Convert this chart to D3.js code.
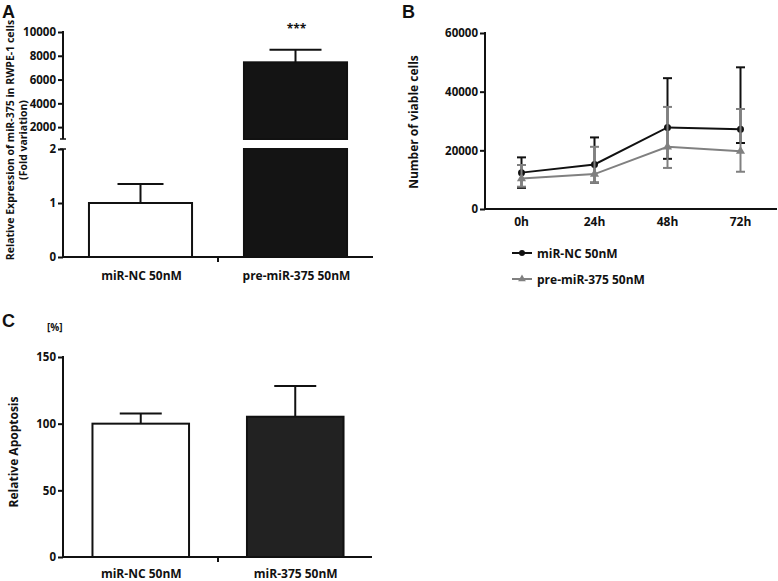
<!DOCTYPE html>
<html><head><meta charset="utf-8">
<script src="https://cdn.jsdelivr.net/npm/d3@7"></script>
<style>
body{margin:0;background:#fff;}
text{font-family:"Open Sans",sans-serif;font-weight:700;fill:#111;}
</style></head>
<body><svg id="c" width="778" height="581"></svg>
<script>
// Panel A data
const catsA = ["miR-NC 50nM", "pre-miR-375 50nM"];
const valuesA = [1, 7450];
const errA = [0.35, 1050];
const ticksAUpper = [2000, 4000, 6000, 8000, 10000];
const ticksALower = [0, 1, 2];
// Panel B data
const timesB = ["0h", "24h", "48h", "72h"];
const ncMean = [12400, 15200, 27800, 27200];
const ncLow = [7200, 9000, 17100, 22500];
const ncHigh = [17600, 24400, 44600, 48300];
const preMean = [10400, 11900, 21200, 19700];
const preLow = [7600, 9000, 14000, 12700];
const preHigh = [15000, 21200, 34800, 34100];
const ticksB = [0, 20000, 40000, 60000];
const seriesB = ["miR-NC 50nM", "pre-miR-375 50nM"];
// Panel C data
const catsC = ["miR-NC 50nM", "miR-375 50nM"];
const valuesC = [100, 105.2];
const errC = [7.7, 23];
const ticksC = [0, 50, 100, 150];

const svg = d3.select("#c");
const fs = 11.5;
const fl = 12;

function styleAxis(g){
  g.selectAll("path.domain").remove();
  g.selectAll("line").attr("stroke","#111").attr("stroke-width",2);
  g.selectAll("text").attr("font-size",fs).style("font-family","'Open Sans',sans-serif").style("font-weight",700).attr("fill","#111");
}

// ---------- Panel A ----------
const xA = d3.scalePoint().domain(catsA).range([63,373]).padding(0.5);
const stepA = xA.step();
const bwA = stepA*0.665;
const yAU = d3.scaleLinear().domain([1000,10000]).range([139,32]);
const yAL = d3.scaleLinear().domain([0,2]).range([257,149]);
const gA = svg.append("g");
catsA.forEach((c,i)=>{
  const v = valuesA[i];
  const fill = i===0 ? "#fff" : "#141414";
  if (v <= 2) {
    gA.append("rect").attr("x",xA(c)-bwA/2).attr("y",yAL(v)).attr("width",bwA).attr("height",yAL(0)-yAL(v))
      .attr("fill",fill).attr("stroke","#111").attr("stroke-width",2);
    const top = yAL(v+errA[i]);
    gA.append("line").attr("x1",xA(c)).attr("x2",xA(c)).attr("y1",yAL(v)).attr("y2",top).attr("stroke","#111").attr("stroke-width",2);
    gA.append("line").attr("x1",xA(c)-23).attr("x2",xA(c)+23).attr("y1",top).attr("y2",top).attr("stroke","#111").attr("stroke-width",2);
  } else {
    gA.append("rect").attr("x",xA(c)-bwA/2).attr("y",yAL(2)).attr("width",bwA).attr("height",yAL(0)-yAL(2))
      .attr("fill",fill).attr("stroke","#111").attr("stroke-width",2);
    gA.append("rect").attr("x",xA(c)-bwA/2).attr("y",yAU(v)).attr("width",bwA).attr("height",yAU(1000)-yAU(v))
      .attr("fill",fill).attr("stroke","#111").attr("stroke-width",2);
    const top = yAU(v+errA[i]);
    gA.append("line").attr("x1",xA(c)).attr("x2",xA(c)).attr("y1",yAU(v)).attr("y2",top).attr("stroke","#111").attr("stroke-width",2);
    gA.append("line").attr("x1",xA(c)-26).attr("x2",xA(c)+26).attr("y1",top).attr("y2",top).attr("stroke","#111").attr("stroke-width",2);
    gA.append("text").attr("x",xA(c)+1).attr("y",top-17).attr("text-anchor","middle").attr("font-size",fl).text("***");
  }
});
const axAU = gA.append("g").attr("transform","translate(63,0)").call(d3.axisLeft(yAU).tickValues(ticksAUpper).tickSize(5).tickPadding(2).tickFormat(d3.format("d")));
styleAxis(axAU);
const axAL = gA.append("g").attr("transform","translate(63,0)").call(d3.axisLeft(yAL).tickValues(ticksALower).tickSize(5).tickPadding(2).tickFormat(d3.format("d")));
styleAxis(axAL);
gA.append("line").attr("x1",63).attr("x2",63).attr("y1",yAU(10000)-1).attr("y2",yAU(1000)).attr("stroke","#111").attr("stroke-width",2);
gA.append("line").attr("x1",60).attr("x2",66).attr("y1",yAU(1000)).attr("y2",yAU(1000)).attr("stroke","#111").attr("stroke-width",1.5);
gA.append("line").attr("x1",63).attr("x2",63).attr("y1",yAL(2)).attr("y2",yAL(0)).attr("stroke","#111").attr("stroke-width",2);
gA.append("line").attr("x1",60).attr("x2",66).attr("y1",yAL(2)).attr("y2",yAL(2)).attr("stroke","#111").attr("stroke-width",1.5);
gA.append("line").attr("x1",62).attr("x2",373).attr("y1",257).attr("y2",257).attr("stroke","#111").attr("stroke-width",2);
gA.append("line").attr("x1",218).attr("x2",218).attr("y1",257).attr("y2",262).attr("stroke","#111").attr("stroke-width",2);
catsA.forEach(c=>{
  gA.append("text").attr("x",xA(c)+1).attr("y",280).attr("text-anchor","middle").attr("font-size",fl).text(c);
});
gA.append("text").attr("transform","translate(14,140) rotate(-90)").attr("text-anchor","middle").attr("font-size",10.5).text("Relative Expression of miR-375 in RWPE-1 cells");
gA.append("text").attr("transform","translate(27,140) rotate(-90)").attr("text-anchor","middle").attr("font-size",10.5).text("(Fold variation)");
svg.append("text").attr("x",2).attr("y",18).attr("font-size",18).style("font-family","'Liberation Sans',Arial,sans-serif").text("A");

// ---------- Panel B ----------
const xB = d3.scalePoint().domain(timesB).range([485,777]).padding(0.5);
const yB = d3.scaleLinear().domain([0,60000]).range([209,33]);
const gB = svg.append("g");
const axB = gB.append("g").attr("transform","translate(485,0)").call(d3.axisLeft(yB).tickValues(ticksB).tickSize(5).tickPadding(2).tickFormat(d3.format("d")));
styleAxis(axB);
gB.append("line").attr("x1",485).attr("x2",485).attr("y1",32).attr("y2",209).attr("stroke","#111").attr("stroke-width",2);
gB.append("line").attr("x1",484).attr("x2",777).attr("y1",209).attr("y2",209).attr("stroke","#111").attr("stroke-width",2);
timesB.forEach(t=>{
  gB.append("text").attr("x",xB(t)).attr("y",226).attr("text-anchor","middle").attr("font-size",fl).text(t);
});
const line = d3.line().x(d=>xB(d.t)).y(d=>yB(d.v));
function drawSeries(mean, low, high, color, marker){
  const pts = timesB.map((t,i)=>({t, v:mean[i], lo:low[i], hi:high[i]}));
  pts.forEach(p=>{
    gB.append("line").attr("x1",xB(p.t)).attr("x2",xB(p.t)).attr("y1",yB(p.lo)).attr("y2",yB(p.hi)).attr("stroke",color).attr("stroke-width",2);
    [p.lo,p.hi].forEach(v=>gB.append("line").attr("x1",xB(p.t)-4.5).attr("x2",xB(p.t)+4.5).attr("y1",yB(v)).attr("y2",yB(v)).attr("stroke",color).attr("stroke-width",2));
  });
  gB.append("path").datum(pts).attr("d",line).attr("fill","none").attr("stroke",color).attr("stroke-width",2);
  pts.forEach(p=>{
    if(marker==="circle") gB.append("circle").attr("cx",xB(p.t)).attr("cy",yB(p.v)).attr("r",3.5).attr("fill",color);
    else gB.append("path").attr("d",d3.symbol(d3.symbolTriangle,36)()).attr("transform",`translate(${xB(p.t)},${yB(p.v)})`).attr("fill",color);
  });
}
drawSeries(ncMean, ncLow, ncHigh, "#111", "circle");
drawSeries(preMean, preLow, preHigh, "#808080", "triangle");
gB.append("text").attr("transform","translate(418,122) rotate(-90)").attr("text-anchor","middle").attr("font-size",fl).text("Number of viable cells");
const legColors = ["#111","#808080"];
seriesB.forEach((s,i)=>{
  const y = 253 + i*26;
  gB.append("line").attr("x1",512).attr("x2",532).attr("y1",y).attr("y2",y).attr("stroke",legColors[i]).attr("stroke-width",2);
  if(i===0) gB.append("circle").attr("cx",522).attr("cy",y).attr("r",3).attr("fill",legColors[i]);
  else gB.append("path").attr("d",d3.symbol(d3.symbolTriangle,26)()).attr("transform",`translate(522,${y})`).attr("fill",legColors[i]);
  gB.append("text").attr("x",537).attr("y",y+4.5).attr("font-size",fl).text(s);
});
svg.append("text").attr("x",402).attr("y",18).attr("font-size",18).style("font-family","'Liberation Sans',Arial,sans-serif").text("B");

// ---------- Panel C ----------
const xC = d3.scalePoint().domain(catsC).range([63,372]).padding(0.5);
const bwC = xC.step()*0.625;
const yC = d3.scaleLinear().domain([0,150]).range([557,357]);
const gC = svg.append("g");
catsC.forEach((c,i)=>{
  const v = valuesC[i];
  const cx = xC(c)+0.5;
  gC.append("rect").attr("x",cx-bwC/2).attr("y",yC(v)).attr("width",bwC).attr("height",yC(0)-yC(v))
    .attr("fill", i===0 ? "#fff" : "#222").attr("stroke","#111").attr("stroke-width",2);
  const top = yC(v+errC[i]);
  gC.append("line").attr("x1",cx).attr("x2",cx).attr("y1",yC(v)).attr("y2",top).attr("stroke","#111").attr("stroke-width",2);
  gC.append("line").attr("x1",cx-21).attr("x2",cx+21).attr("y1",top).attr("y2",top).attr("stroke","#111").attr("stroke-width",2);
});
const axC = gC.append("g").attr("transform","translate(63,0)").call(d3.axisLeft(yC).tickValues(ticksC).tickSize(5).tickPadding(2).tickFormat(d3.format("d")));
styleAxis(axC);
gC.append("line").attr("x1",63).attr("x2",63).attr("y1",356).attr("y2",557).attr("stroke","#111").attr("stroke-width",2);
gC.append("line").attr("x1",62).attr("x2",372).attr("y1",557).attr("y2",557).attr("stroke","#111").attr("stroke-width",2);
gC.append("line").attr("x1",218).attr("x2",218).attr("y1",557).attr("y2",562).attr("stroke","#111").attr("stroke-width",2);
catsC.forEach(c=>{
  gC.append("text").attr("x",xC(c)+1).attr("y",578).attr("text-anchor","middle").attr("font-size",fl).text(c);
});
gC.append("text").attr("x",47).attr("y",331).attr("font-size",10).text("[%]");
gC.append("text").attr("transform","translate(18,452) rotate(-90)").attr("text-anchor","middle").attr("font-size",fl).text("Relative Apoptosis");
svg.append("text").attr("x",2).attr("y",327).attr("font-size",18).style("font-family","'Liberation Sans',Arial,sans-serif").text("C");
</script></body></html>
